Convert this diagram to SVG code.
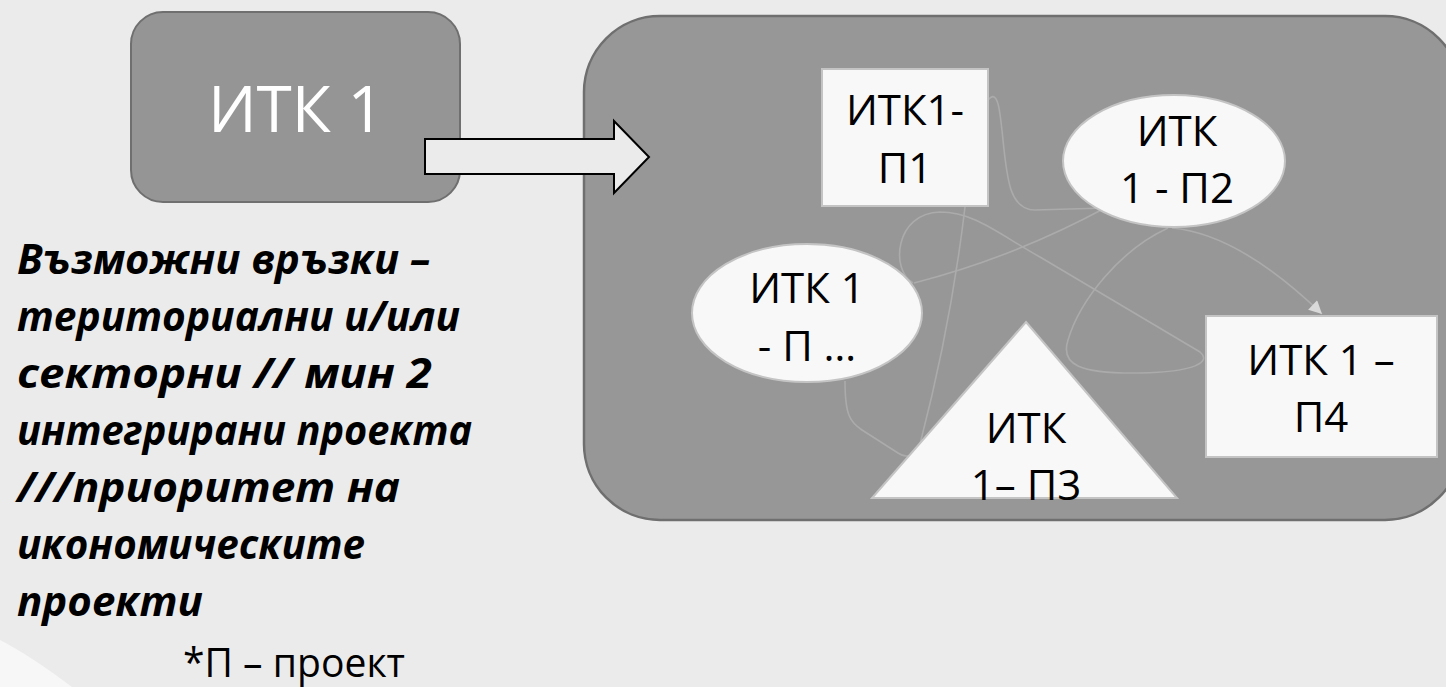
<svg xmlns="http://www.w3.org/2000/svg" width="1446" height="687" viewBox="0 0 1446 687">
<defs>
<style>
.bg{fill:#ebebeb}
.node{fill:#f8f8f8;stroke:#c4c4c4;stroke-width:2}
.lbl{font-family:"Open Sans","Noto Sans","DejaVu Sans",sans-serif;font-size:42px;fill:#000;text-anchor:middle}
.conn{fill:none;stroke:#ababab;stroke-width:1.6}
.para{font-family:"Open Sans","Noto Sans","DejaVu Sans",sans-serif;font-size:42px;font-weight:bold;font-style:italic;fill:#000}
</style>
<marker id="ah" viewBox="0 0 10 10" refX="10" refY="5" markerWidth="15" markerHeight="13" markerUnits="userSpaceOnUse" orient="auto">
<path d="M0,0 L10,5 L0,10 z" fill="#d9d9d9"/>
</marker>
</defs>
<rect class="bg" x="0" y="0" width="1446" height="687"/>
<path d="M0,640 Q31,656 72,687 L0,687 Z" fill="#f7f7f7"/>

<g id="itk1">
<rect x="131" y="12" width="329" height="190" rx="32" fill="#959595" stroke="#6f6f6f" stroke-width="2"/>
<text x="296" y="132" font-family="'Open Sans','Noto Sans',sans-serif" font-size="64" fill="#ffffff" text-anchor="middle">ИТК 1</text>
</g>

<g id="group">
<rect x="584" y="16" width="877" height="504" rx="76" fill="#979797" stroke="#6f6f6f" stroke-width="2.5"/>
</g>

<g id="arrow">
<path d="M425,139 L614,139 L614,121 L649,157 L614,193 L614,174 L425,174 Z" fill="#ebebeb" stroke="#000" stroke-width="2"/>
</g>

<g id="connectors">
<path class="conn" d="M988,100 C998,88 1000,110 1003,140 C1007,180 1010,210 1035,210 L1105,208"/>
<path class="conn" d="M1105,208 Q1012,258 914,283"/>
<path class="conn" d="M913,283 C890,270 895,213 940,212 C975,212 1000,235 1040,257 L1200,352 C1212,362 1195,372 1140,373 C1080,374 1060,365 1068,340 C1080,300 1120,250 1168,228"/>
<path class="conn" d="M965,207 Q951,325 920,444"/>
<path class="conn" d="M845,381 C845,415 850,422 862,430 L898,453 Q908,460 916,451"/>
<path class="conn" d="M1172,228 Q1239,234 1322,314" marker-end="url(#ah)"/>
</g>

<g id="p1">
<rect class="node" x="822" y="69" width="166" height="137"/>
<text class="lbl" x="905" y="125">ИТК1-</text>
<text class="lbl" x="905" y="183">П1</text>
</g>

<g id="p2">
<ellipse class="node" cx="1174" cy="161" rx="111" ry="66"/>
<text class="lbl" x="1177" y="146">ИТК</text>
<text class="lbl" x="1177" y="203">1 - П2</text>
</g>

<g id="pdots">
<ellipse class="node" cx="807" cy="313" rx="115" ry="69"/>
<text class="lbl" x="807" y="303">ИТК 1</text>
<text class="lbl" x="807" y="361">- П …</text>
</g>

<g id="p3">
<polygon class="node" points="1026,322 1177,498 872,498"/>
<text class="lbl" x="1026" y="443">ИТК</text>
<text class="lbl" x="1026" y="500">1– П3</text>
</g>

<g id="p4">
<rect class="node" x="1206" y="316" width="231" height="141"/>
<text class="lbl" x="1321" y="375">ИТК 1 –</text>
<text class="lbl" x="1321" y="432">П4</text>
</g>

<g id="notes">
<text class="para" x="17" y="274" textLength="413" lengthAdjust="spacingAndGlyphs">Възможни връзки –</text>
<text class="para" x="17" y="331" textLength="443" lengthAdjust="spacingAndGlyphs">териториални и/или</text>
<text class="para" x="17" y="388" textLength="415" lengthAdjust="spacingAndGlyphs">секторни // мин 2</text>
<text class="para" x="17" y="445" textLength="455" lengthAdjust="spacingAndGlyphs">интегрирани проекта</text>
<text class="para" x="17" y="502" textLength="383" lengthAdjust="spacingAndGlyphs">///приоритет на</text>
<text class="para" x="17" y="559" textLength="348" lengthAdjust="spacingAndGlyphs">икономическите</text>
<text class="para" x="17" y="616" textLength="186" lengthAdjust="spacingAndGlyphs">проекти</text>
<text x="183" y="677" font-family="'Open Sans','Noto Sans',sans-serif" font-size="41" fill="#000" textLength="222" lengthAdjust="spacingAndGlyphs">*П – проект</text>
</g>
</svg>
